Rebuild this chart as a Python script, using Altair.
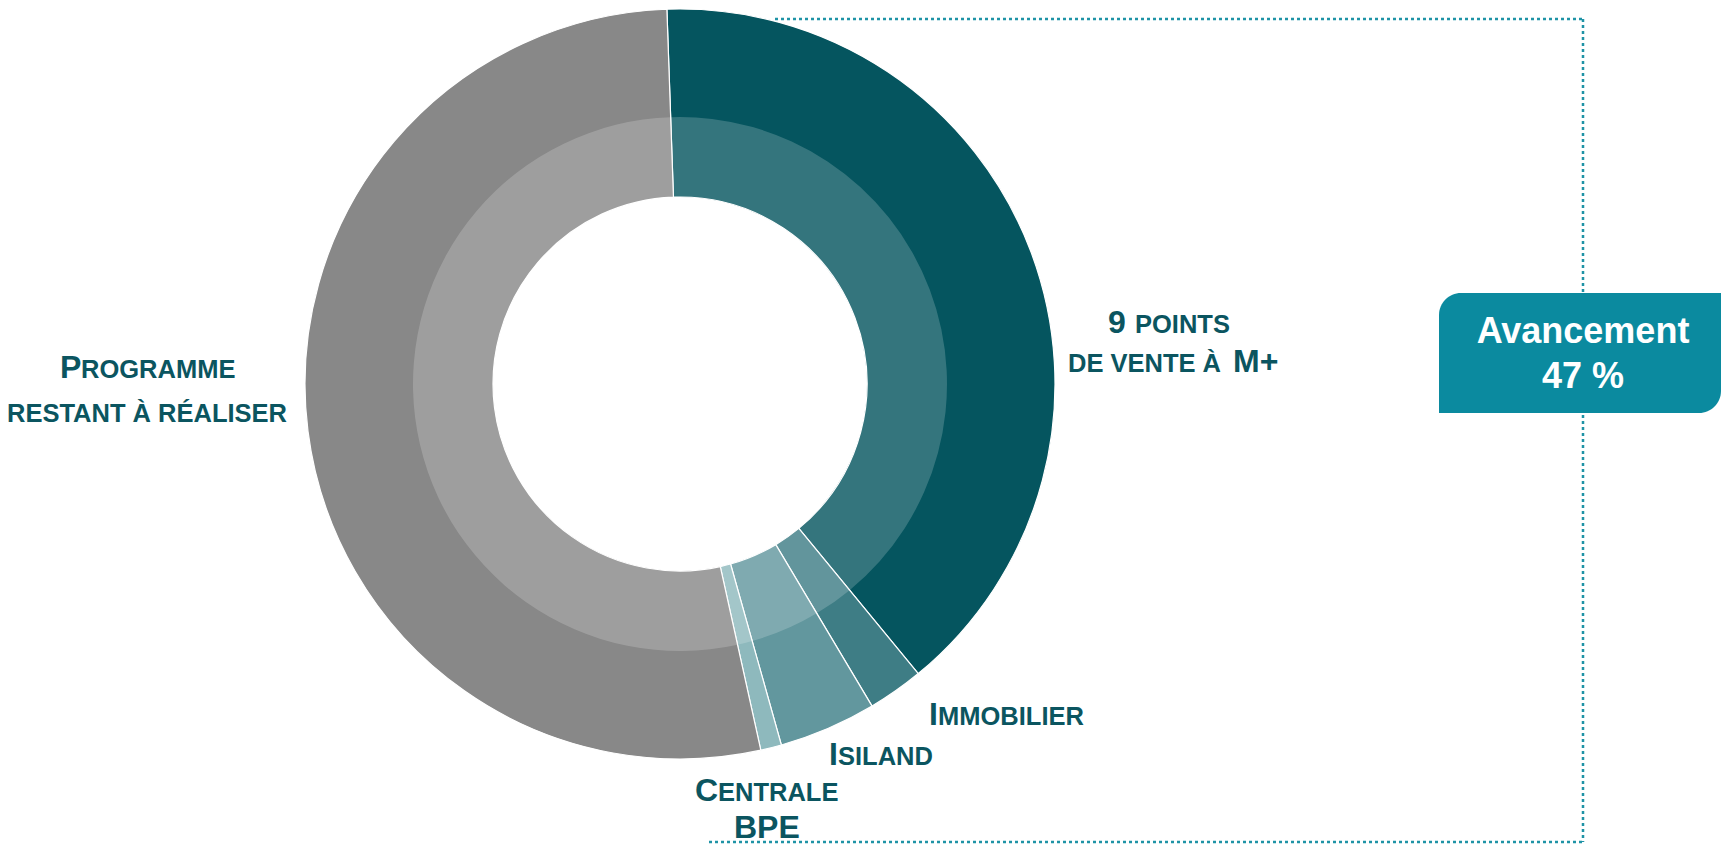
import math
import altair as alt
import pandas as pd

# ---- data ----
categories = ["9 points de vente à M+", "Immobilier", "Isiland", "Centrale BPE", "Programme restant à réaliser"]
values = [39.6, 2.4, 4.2, 0.9, 52.9]
slice_order = [1, 2, 3, 4, 5]
colors = ["#05555f", "#3e7d85", "#62979e", "#8eb9bd", "#888888"]
progress_title = "Avancement"
progress_value = "47 %"

df = pd.DataFrame({"cat": categories, "value": values, "ord": slice_order})

W, H = 1713, 836
CX, CY = 672, 376
R_OUT, R_MID, R_IN = 375, 267, 187
START = -0.035
FONT = "Liberation Sans"
LABEL_COLOR = "#0b5560"
DOT_COLOR = "#1f93a6"
BIG, SMALL = 32, 25.5

theta = alt.Theta("value:Q", stack=True,
                  scale=alt.Scale(range=[START, START + 2 * math.pi]))
color = alt.Color("cat:N", scale=alt.Scale(domain=categories, range=colors), legend=None)
order = alt.Order("ord:Q")

base = alt.Chart(df).encode(theta=theta, order=order,
                            x=alt.value(CX), y=alt.value(CY))
ring = base.mark_arc(radius=R_OUT, radius2=R_IN, stroke="white", strokeWidth=1.2).encode(color=color)
inner = base.mark_arc(radius=R_MID, radius2=R_IN, fill="white", fillOpacity=0.19, strokeWidth=0)

one = pd.DataFrame({"k": [0]})

def rule_h(x1, x2, y):
    return alt.Chart(one).mark_rule(color=DOT_COLOR, strokeWidth=2.5, strokeDash=[3, 3]).encode(
        x=alt.value(x1), x2=alt.value(x2), y=alt.value(y))

def rule_v(x, y1, y2):
    return alt.Chart(one).mark_rule(color=DOT_COLOR, strokeWidth=2.5, strokeDash=[3, 3]).encode(
        x=alt.value(x), y=alt.value(y1), y2=alt.value(y2))

lines = [
    rule_h(767, 1575, 11),
    rule_v(1575, 11, 834),
    rule_h(701, 1575, 834),
]

box = alt.Chart(one).mark_rect(color="#0b8a9f", cornerRadiusTopLeft=22,
                               cornerRadiusBottomRight=22).encode(
    x=alt.value(1431), x2=alt.value(1713), y=alt.value(285), y2=alt.value(405))

def txt(s, x, y, size, align="left", color=LABEL_COLOR):
    return alt.Chart(one).mark_text(text=s, font=FONT, fontWeight="bold", fontSize=size,
                                    align=align, baseline="alphabetic", color=color).encode(
        x=alt.value(x), y=alt.value(y))

# small-caps labels: (text, left x, baseline y, size) in chart pixels
labels = [
    txt("P", 52, 370, BIG), txt("ROGRAMME", 73, 370, SMALL),
    txt("RESTANT À RÉALISER", 139, 414, SMALL, align="center"),
    txt("9", 1100, 325, BIG), txt("POINTS", 1127, 325, SMALL),
    txt("DE VENTE À", 1060, 364, SMALL), txt("M+", 1225, 364, BIG),
    txt("I", 921, 717, BIG), txt("MMOBILIER", 930, 717, SMALL),
    txt("I", 821, 757, BIG), txt("SILAND", 830, 757, SMALL),
    txt("C", 687, 793, BIG), txt("ENTRALE", 710, 793, SMALL),
    txt("BPE", 726, 830, BIG),
    txt(progress_title, 1575, 335, 36, align="center", color="white"),
    txt(progress_value, 1575, 380, 36, align="center", color="white"),
]

chart = alt.layer(ring, inner, *lines, box, *labels).properties(
    width=W, height=H, padding=0, autosize=alt.AutoSizeParams(type="none")
).configure_view(stroke=None)

chart.save("out.html", embed_options={"renderer": "svg", "actions": False})
